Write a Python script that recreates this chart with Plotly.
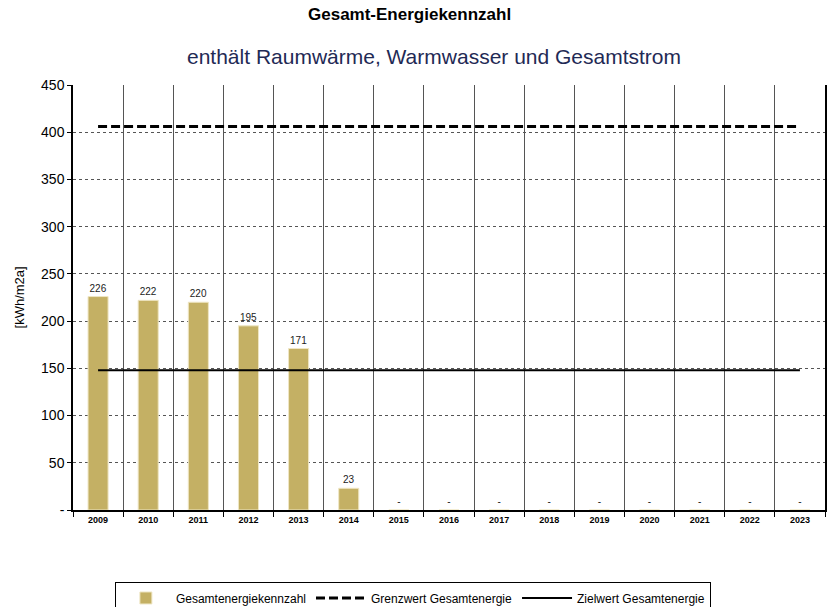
import plotly.graph_objects as go

years = ["2009", "2010", "2011", "2012", "2013", "2014", "2015", "2016",
         "2017", "2018", "2019", "2020", "2021", "2022", "2023"]
gesamt = [226, 222, 220, 195, 171, 23, 0, 0, 0, 0, 0, 0, 0, 0, 0]
grenzwert = [406, 406, 406, 406, 406, 406, 406, 406, 406, 406, 406, 406, 406, 406, 406]
zielwert = [148, 148, 148, 148, 148, 148, 148, 148, 148, 148, 148, 148, 148, 148, 148]
y_ticks = [0, 50, 100, 150, 200, 250, 300, 350, 400, 450]
y_tick_labels = ["-", "50", "100", "150", "200", "250", "300", "350", "400", "450"]

labels = [str(v) if v else "-" for v in gesamt]

FONT = "Liberation Sans, Arial, sans-serif"

fig = go.Figure()
fig.add_trace(go.Bar(
    x=years, y=gesamt, name="Gesamtenergiekennzahl",
    marker=dict(color="#C4B064", line=dict(color="#EFE6C4", width=1)),
    width=0.4, text=labels, textposition="outside",
    textfont=dict(size=10, color="#222", family=FONT), cliponaxis=False,
))
fig.add_trace(go.Scatter(
    x=years, y=grenzwert, name="Grenzwert Gesamtenergie", mode="lines",
    line=dict(color="black", width=3, dash="9px,4px"),
))
fig.add_trace(go.Scatter(
    x=years, y=zielwert, name="Zielwert Gesamtenergie", mode="lines",
    line=dict(color="black", width=2),
))

fig.update_layout(
    width=831, height=607,
    margin=dict(l=73, r=6, t=85, b=97, autoexpand=False),
    paper_bgcolor="white", plot_bgcolor="white",
    font=dict(family=FONT, color="black"),
    showlegend=True,
    legend=dict(orientation="h", x=0.452, xanchor="center", y=-0.207, yanchor="middle",
                bordercolor="black", borderwidth=1, font=dict(size=12),
                traceorder="normal", itemwidth=50),
    bargap=0.6,
    annotations=[
        dict(text="<b>Gesamt-Energiekennzahl</b>", xref="paper", yref="paper",
             x=0.448, y=1.167, xanchor="center", yanchor="middle", showarrow=False,
             font=dict(size=17, color="black")),
        dict(text="enthält Raumwärme, Warmwasser und Gesamtstrom", xref="paper", yref="paper",
             x=0.48, y=1.066, xanchor="center", yanchor="middle", showarrow=False,
             font=dict(size=21, color="#1F2A55")),
        dict(text="[kWh/m2a]", xref="paper", yref="paper", x=-0.0705, y=0.5,
             xanchor="center", yanchor="middle", textangle=-90, showarrow=False,
             font=dict(size=13, color="black")),
    ],
)
fig.update_xaxes(
    type="category", tickson="boundaries", ticks="outside", ticklen=5,
    tickcolor="black", showline=True, linecolor="black", linewidth=1.5,
    showgrid=True, gridcolor="#555", gridwidth=1, automargin=False,
    tickfont=dict(size=9, family="Liberation Sans, Arial", color="black"),
    tickprefix="<b>", ticksuffix="</b>",
)
fig.update_yaxes(
    range=[0, 450], tickvals=y_ticks, ticktext=y_tick_labels,
    ticks="outside", ticklen=4, tickcolor="black", automargin=False,
    showline=True, linecolor="black", linewidth=1.5, mirror=True,
    showgrid=True, gridcolor="#555", gridwidth=1, griddash="dot",
    tickfont=dict(size=14, color="black"), zeroline=False,
)

fig.write_html("out.html", config={"displayModeBar": False},
               post_script="document.body.style.margin='0';")
